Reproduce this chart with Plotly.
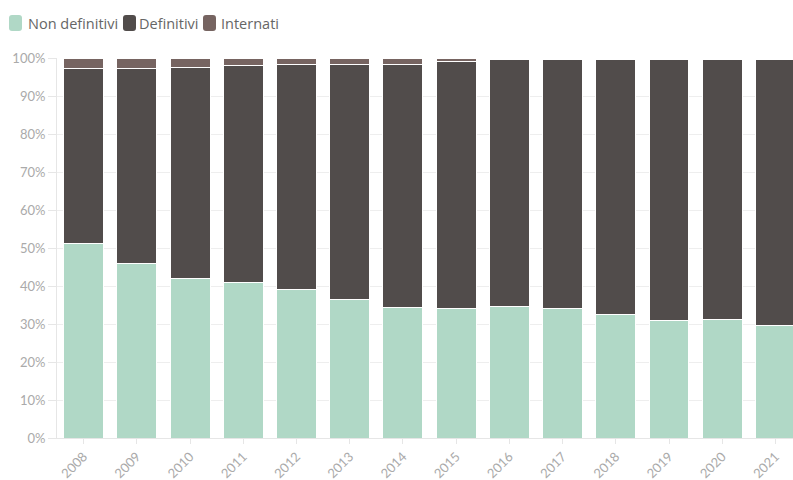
import plotly.graph_objects as go

years = ["2008", "2009", "2010", "2011", "2012", "2013", "2014",
         "2015", "2016", "2017", "2018", "2019", "2020", "2021"]
non_definitivi = [51.3, 45.9, 42.1, 40.8, 39.0, 36.4, 34.4, 34.2, 34.7, 34.2, 32.6, 30.9, 31.3, 29.7]
definitivi = [45.9, 51.4, 55.5, 57.1, 59.2, 61.9, 64.0, 65.0, 64.8, 65.3, 66.9, 68.6, 68.2, 69.8]
internati = [2.8, 2.7, 2.4, 2.1, 1.8, 1.7, 1.6, 0.8, 0.5, 0.5, 0.5, 0.5, 0.5, 0.5]

series = [
    ("Non definitivi", non_definitivi, "#b0d8c6"),
    ("Definitivi", definitivi, "#514c4b"),
    ("Internati", internati, "#766461"),
]

W, H = 793, 480
ML, MR, MT, MB = 57, 0, 58, 42
PW, PH = W - ML - MR, H - MT - MB

fig = go.Figure()
for name, vals, color in series:
    fig.add_trace(go.Bar(
        x=years, y=vals, name=name, showlegend=False,
        marker=dict(color=color, line=dict(color="white", width=1)),
    ))


def px2paper(x, y):
    return (x - ML) / PW, (H - MB - y) / PH


def rounded_rect(x0, y0, x1, y1, r):
    def P(x, y):
        return "%.5f,%.5f" % px2paper(x, y)
    path = [
        "M " + P(x0 + r, y0),
        "L " + P(x1 - r, y0),
        "Q " + P(x1, y0) + " " + P(x1, y0 + r),
        "L " + P(x1, y1 - r),
        "Q " + P(x1, y1) + " " + P(x1 - r, y1),
        "L " + P(x0 + r, y1),
        "Q " + P(x0, y1) + " " + P(x0, y1 - r),
        "L " + P(x0, y0 + r),
        "Q " + P(x0, y0) + " " + P(x0 + r, y0),
        "Z",
    ]
    return " ".join(path)


# custom legend (swatch and text x positions in pixels)
legend_pos = [(9, 26), (123, 137), (203, 219)]
for (name, vals, color), (sx, tx) in zip(series, legend_pos):
    fig.add_shape(type="path", xref="paper", yref="paper",
                  path=rounded_rect(sx, 15, sx + 13, 31, 3),
                  fillcolor=color, line=dict(width=0), layer="above")
    ax, ay = px2paper(tx, 23)
    fig.add_annotation(x=ax, y=ay, xref="paper", yref="paper",
                       text=name, showarrow=False, xanchor="left", yanchor="middle",
                       font=dict(family="Open Sans", size=14.5, color="#666666"))

fig.update_layout(
    barmode="stack",
    bargap=0.25,
    width=W, height=H,
    margin=dict(l=ML, r=MR, t=MT, b=MB),
    paper_bgcolor="white", plot_bgcolor="white",
    font=dict(family="Lato", size=13, color="#aaaaaa"),
    showlegend=False,
    xaxis=dict(
        range=[-0.5, 13.33], tickangle=-45,
        showline=True, linecolor="#e6e6e6", linewidth=1,
        ticks="outside", ticklen=5, tickcolor="#e6e6e6",
        showgrid=False, tickfont=dict(size=13, color="#aaaaaa"),
    ),
    yaxis=dict(
        range=[0, 100], dtick=10, ticksuffix="%",
        showline=True, linecolor="#e6e6e6", linewidth=1,
        ticks="outside", ticklen=8, tickcolor="#e6e6e6",
        showgrid=True, gridcolor="#eeeeee", zeroline=False,
        tickfont=dict(size=13, color="#aaaaaa"),
    ),
)

fig.write_html("out.html")
